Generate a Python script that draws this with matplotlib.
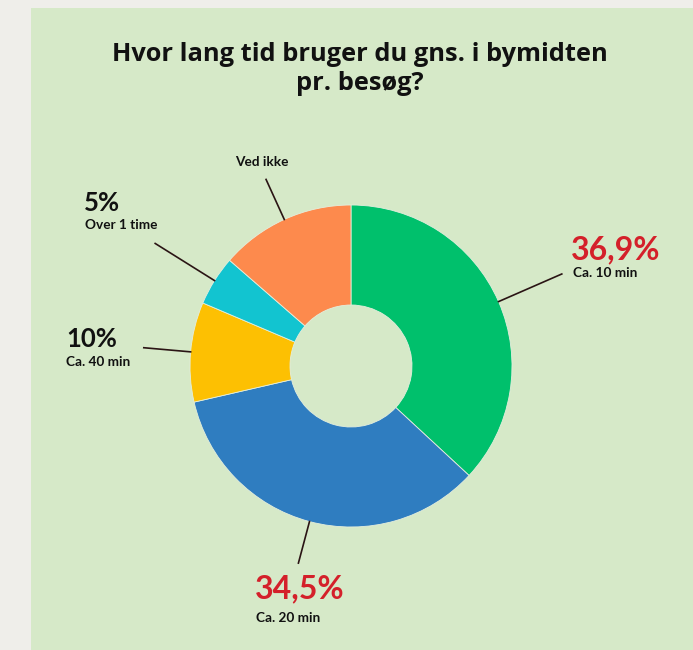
import matplotlib.pyplot as plt
import numpy as np
from matplotlib.patches import Rectangle

# data
categories = ['Ca. 10 min', 'Ca. 20 min', 'Ca. 40 min', 'Over 1 time', 'Ved ikke']
shares = [36.9, 34.5, 10.0, 5.0, 13.6]
value_labels = ['36,9%', '34,5%', '10%', '5%', '']
colors = ['#00c06c', '#2f7dc0', '#fdc002', '#12c4d0', '#fd8a4d']
title = 'Hvor lang tid bruger du gns. i bymidten\npr. besøg?'

W, H = 693, 650
fig = plt.figure(figsize=(W / 100, H / 100), dpi=100, facecolor='#efeeea')
ax = fig.add_axes([0, 0, 1, 1])

# green panel
ax.add_patch(Rectangle((31, 0), W - 31, H - 8, facecolor='#d6e9c8', edgecolor='none', zorder=0))

ax.text(360, H - 69, title, ha='center', va='center', fontsize=18.3, fontweight='bold',
        family='Open Sans', color='#111111', linespacing=1.25)

cx, cy, R = 351, H - 366, 161
wedges, _ = ax.pie(shares, colors=colors, startangle=90, counterclock=False,
                   center=(cx, cy), radius=R, frame=True,
                   wedgeprops=dict(width=R - 61, edgecolor='#e4eedd', linewidth=0.6))
ax.set_xlim(0, W)
ax.set_ylim(0, H)
ax.set_aspect('equal')
ax.axis('off')

# leader lines, radial from wedge middle
line_len = [69, 43, 47, 70, 44]
# label anchors (pixel coords, left of text block)
pct_pos = [(571, 250), (255, 589), (66, 339), (84, 203), None]
sub_pos = [(573, 273), (256, 618), (66, 362), (85, 225), (235, 162)]
for w, L, lab, cat, pp, sp in zip(wedges, line_len, value_labels, categories, pct_pos, sub_pos):
    ang = np.deg2rad((w.theta1 + w.theta2) / 2)
    x0, y0 = cx + R * np.cos(ang), cy + R * np.sin(ang)
    x1, y1 = cx + (R + L) * np.cos(ang), cy + (R + L) * np.sin(ang)
    ax.plot([x0, x1], [y0, y1], color='#2a1414', lw=1.2, zorder=3)
    if lab:
        red = lab in ('36,9%', '34,5%')
        ax.text(pp[0], H - pp[1], lab, ha='left', va='center', family='Lato',
                fontweight='bold', fontsize=23 if red else 18.5,
                color='#d4202a' if red else '#111111')
    ax.text(sp[0], H - sp[1], cat, ha='left', va='center', family='Lato',
            fontweight='bold', fontsize=9.8, color='#111111')

fig.savefig('out.png', dpi=100, facecolor=fig.get_facecolor())
